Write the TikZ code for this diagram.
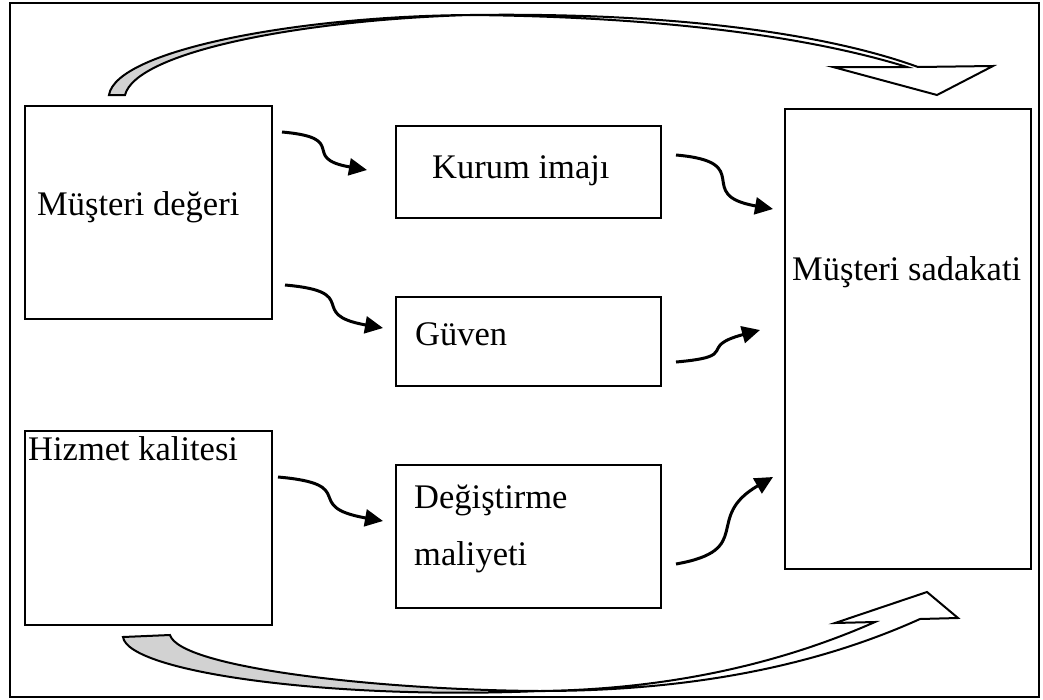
\documentclass[tikz,border=0pt]{standalone}
\usepackage{fontspec}
\setmainfont{Liberation Serif}
\usetikzlibrary{arrows.meta}
\begin{document}
\begin{tikzpicture}[x=1pt,y=1pt,
  box/.style={draw, line width=2pt, anchor=north west, inner sep=0pt},
  txt/.style={anchor=base west, inner sep=0pt, font=\fontsize{34.5}{40}\selectfont},
  link/.style={line width=3pt, -{Triangle[length=18pt,width=17pt]}},
  band/.style={draw, line width=2pt, line join=miter}]
\useasboundingbox (0,0) rectangle (1043,-699);
\draw[line width=1.8pt] (10,-3) rectangle (1039,-697);

% boxes
\node[box, minimum width=247pt, minimum height=213pt] (md) at (24,-105) {};
\node[box, minimum width=265pt, minimum height=92pt] (ki) at (395,-125) {};
\node[box, minimum width=265pt, minimum height=89pt] (gv) at (395,-296) {};
\node[box, minimum width=247pt, minimum height=194pt] (hk) at (24,-430) {};
\node[box, minimum width=265pt, minimum height=143pt] (dm) at (395,-464) {};
\node[box, minimum width=246pt, minimum height=460pt] (ms) at (784,-108) {};

% texts
\node[txt] (mdt) at (37,-215) {Müşteri değeri};
\node[txt] (kit) at (432,-178) {Kurum imajı};
\node[txt] (gvt) at (415,-345) {Güven};
\node[txt] (hkt) at (28,-460) {Hizmet kalitesi};
\node[txt] (dmt1) at (414,-508) {Değiştirme};
\node[txt] (dmt2) at (414,-565) {maliyeti};
\node[txt] (mst) at (792,-280) {Müşteri sadakati};

% small arrows
\draw[link] ([shift={(9,-27)}]md.north east) to[out=-5,in=170,looseness=1.9] ([shift={(-28,2)}]ki.west);
\draw[link] ([shift={(12,35)}]md.south east) to[out=-5,in=170,looseness=1.9] ([shift={(-12,13.5)}]gv.west);
\draw[link] ([shift={(5,-47)}]hk.north east) to[out=-5,in=170,looseness=1.9] ([shift={(-12,15.5)}]dm.west);
\draw[link] ([shift={(14,17)}]ki.east) to[out=-5,in=170,looseness=1.9] ([shift={(-11,-101)}]ms.north west);
\draw[link] ([shift={(14,-20.5)}]gv.east) to[out=5,in=195,looseness=1.9] ([shift={(-24,9)}]ms.west);
\draw[link] ([shift={(14,-27.5)}]dm.east) to[out=10,in=210,looseness=1.6] ([shift={(-11,93)}]ms.south west);

% top band
\draw[band, fill=white] (470,-15) .. controls (680,-12) and (830,-35) .. (918,-67) -- (993,-66) -- (937,-95)
  -- (833,-67) -- (907,-67) .. controls (820,-40) and (680,-17) .. (470,-15) -- cycle;
\draw[band, fill=gray!35] (109,-95) .. controls (116,-50) and (300,-16) .. (470,-15)
  .. controls (300,-20) and (136,-52) .. (125,-95) -- cycle;

% bottom band
\draw[band, fill=white] (540,-691) .. controls (720,-691) and (840,-655) .. (920,-619) -- (958,-618) -- (927,-592)
  -- (835,-623) -- (875,-622) .. controls (800,-655) and (690,-689) .. (540,-691) -- cycle;
\draw[band, fill=gray!35] (123,-637) .. controls (128,-672) and (330,-700) .. (540,-691)
  .. controls (380,-690) and (180,-668) .. (170,-635) -- cycle;
\end{tikzpicture}
\end{document}
